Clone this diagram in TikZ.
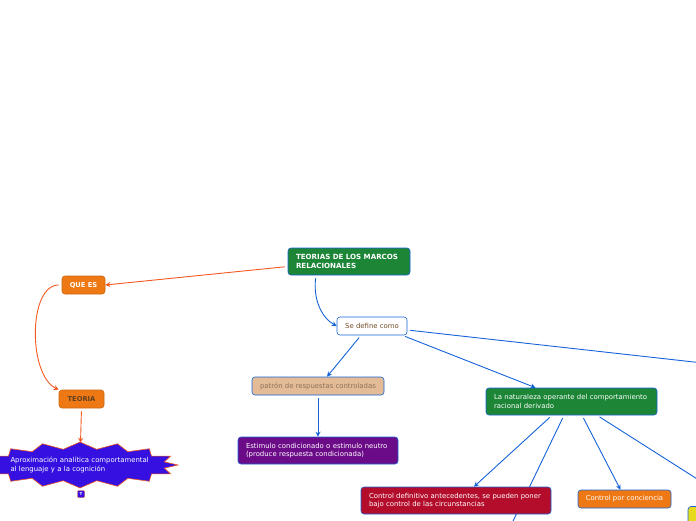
\documentclass[tikz,border=0pt]{standalone}
\usepackage{fontspec}
\setmainfont{DejaVu Sans}
\usetikzlibrary{arrows.meta, positioning, backgrounds}
\definecolor{mapblue}{HTML}{1663D9}
\definecolor{linkorange}{HTML}{F25A22}
\definecolor{nodegreen}{HTML}{1C8636}
\definecolor{nodeorange}{HTML}{EE7914}
\definecolor{nodetan}{HTML}{E3BB97}
\definecolor{nodepurple}{HTML}{6C0B87}
\definecolor{nodecrimson}{HTML}{B30D2B}
\definecolor{burstblue}{HTML}{3510E0}
\definecolor{nodeyellow}{HTML}{E6DA1F}

\begin{document}
\begin{tikzpicture}[x=1pt, y=-1pt,
  box/.style={draw=mapblue, rounded corners=3pt, line width=0.6pt,
    font=\fontsize{6.9}{8.3}\selectfont, inner xsep=8pt, inner ysep=0pt,
    align=left, minimum height=27pt},
  smallbox/.style={box, align=center, minimum height=18pt, inner xsep=0pt},
  orangebox/.style={smallbox, fill=nodeorange, draw=nodeorange!85!black,
    font=\fontsize{6.7}{8}\selectfont\bfseries},
  link/.style={mapblue, line width=0.9pt, shorten <=3pt,
    -{Stealth[length=5pt, width=5pt]}},
  plainlink/.style={mapblue, line width=0.9pt, shorten <=3pt},
  orangelink/.style={linkorange, line width=0.9pt, shorten <=3pt,
    -{Stealth[length=5pt, width=5pt]}}]
  \useasboundingbox (0,0) rectangle (696,520);

  % Main topic
  \node[box, fill=nodegreen, text=white, text width=106pt,
        font=\fontsize{7.1}{8.6}\selectfont\bfseries] (root) at (349,261.5)
    {TEORIAS DE LOS MARCOS\\RELACIONALES};
  \node[smallbox, fill=white, text=brown!60!black, minimum width=70pt] (sedef) at (372,326)
    {Se define como};

  % Left branch
  \node[orangebox, text=white, minimum width=43pt] (quees) at (83.5,285) {QUE ES};
  \node[orangebox, text=brown!50!black, minimum width=45pt] (teoria) at (81.5,399) {TEORIA};

  % Starburst
  \filldraw[fill=burstblue, draw=linkorange, line width=0.6pt]
    ([shift={(80,465)}]0:98 and 23)
    \foreach \a in {0,22.5,...,337.5} {
      -- ([shift={(80,465)}]\a+11.25:86 and 16)
      -- ([shift={(80,465)}]\a+22.5:98 and 23)
    } -- cycle;
  \node[text=white, font=\fontsize{6.9}{8.3}\selectfont, align=left, inner sep=0pt,
        text width=140pt, minimum height=44pt] (burst) at (80.5,465)
    {Aproximación analítica comportamental\\al lenguaje y a la cognición};
  \node[fill=burstblue, draw=linkorange, rounded corners=1pt, inner sep=0pt,
        minimum size=7pt, text=white, font=\fontsize{4}{4}\selectfont\bfseries] (tnote)
    at (81,494) {T};

  % Middle branch
  \node[smallbox, fill=nodetan, text=brown!45!gray!90!black, minimum width=132pt] (patron)
    at (318,386) {patrón de respuestas controladas};
  \node[box, fill=nodepurple, text=white, text width=144pt] (estim) at (318,450.5)
    {Estimulo condicionado o estimulo neutro\\(produce respuesta condicionada)};

  % Right branch
  \node[box, fill=nodegreen, text=white, text width=155pt] (natur) at (571.5,401.5)
    {La naturaleza operante del comportamiento\\racional derivado};
  \node[box, fill=nodecrimson, text=white, text width=174pt] (crimson) at (456,500.5)
    {Control definitivo antecedentes, se pueden poner\\bajo control de las circunstancias};
  \node[smallbox, fill=nodeorange, text=white, minimum width=93pt] (concien) at (624.5,499)
    {Control por conciencia};
  \node[box, fill=nodeyellow, minimum width=104pt] (yellow) at (740,520) {};
  \coordinate (offA) at (900,385);
  \coordinate (offB) at (475,600);

  % Connectors
  \begin{scope}[on background layer]
    \draw[orangelink] ([yshift=-5pt]root.west) -- (quees.east);
    \draw[orangelink] (quees.west) .. controls (28,285) and (28,375) .. (teoria.north west);
    \draw[orangelink] (teoria.south) -- (burst.north);
    \draw[link] ([xshift=-33pt]root.south) .. controls (313,300) and (322,318) .. (sedef.west);
    \draw[link] ([xshift=-11pt]sedef.south) -- ([xshift=9pt]patron.north);
    \draw[link] ([xshift=-5pt]sedef.south east) -- ([xshift=-36pt]natur.north);
    \draw[plainlink] ([yshift=-4pt]sedef.east) -- (offA);
    \draw[link] (patron.south) -- (estim.north);
    \draw[link] ([xshift=-19.5pt]natur.south) -- ([xshift=18pt]crimson.north);
    \draw[plainlink] ([xshift=-7.5pt]natur.south) -- (offB);
    \draw[link] ([xshift=10.5pt]natur.south) -- ([xshift=-4pt]concien.north);
    \draw[link] ([xshift=25.5pt]natur.south) -- (yellow.north);
  \end{scope}
\end{tikzpicture}
\end{document}
